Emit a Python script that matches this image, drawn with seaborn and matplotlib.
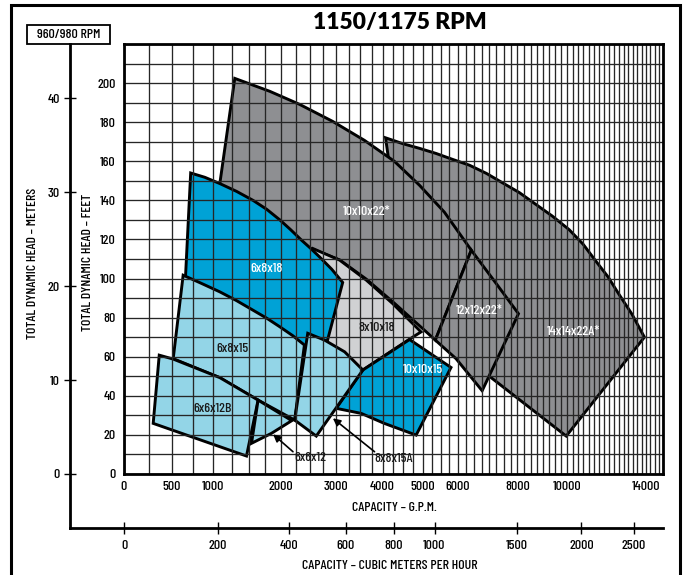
import numpy as np
import matplotlib

matplotlib.use("Agg")

import matplotlib.pyplot as plt
from matplotlib.patches import Rectangle
from matplotlib.ticker import FixedLocator
import seaborn as sns

# ------------------------------------------------------------------
# data: (capacity gpm, head ft) outline points
# ------------------------------------------------------------------
pump_14x14x22a = [(4070, 172), (4490, 169), (4920, 166.6), (5370, 164), (5840, 161),
                  (6360, 158), (6910, 153.8), (7460, 149), (8070, 144), (8700, 138),
                  (9370, 132), (10100, 125), (10730, 117.6), (11330, 109), (11930, 101),
                  (12500, 92), (13200, 81.8), (13900, 70),
                  (9970, 19.4), (7010, 50), (6300, 58), (4280, 140)]
pump_10x10x22 = [(1295, 202.4), (1817, 195.8), (2316, 189.1), (2930, 180.4),
                 (3590, 170.7), (4280, 160), (4920, 147.7), (5605, 134), (6420, 114.5),
                 (5350, 68.5), (4990, 74.6), (4280, 87.4), (3630, 99.7), (3070, 109.5),
                 (2550, 115), (1000, 124)]
pump_12x12x22 = [(6420, 114.5), (7240, 97.5), (8040, 82), (6770, 42.6), (5950, 59),
                 (5350, 68.5)]
pump_8x10x18 = [(2550, 115.4), (3070, 109.4), (3630, 99.2), (4240, 87.2), (4960, 72.7),
                (4660, 69), (3555, 53.2), (2770, 66), (2400, 109)]
pump_6x8x18 = [(720, 154), (895, 151.8), (1090, 148.6), (1320, 144.6), (1560, 140),
               (1770, 135.4), (1980, 130), (2160, 125), (2350, 119.6), (2510, 115.5),
               (2680, 111), (2910, 104.8), (3130, 98), (2830, 68.5), (2585, 66),
               (2316, 58), (650, 94)]
pump_10x10x15 = [(3555, 53.2), (4660, 68.8), (5800, 54.5), (4830, 19.9), (4040, 25.9),
                 (3520, 31), (3000, 33.6)]
pump_6x8x15 = [(630, 101.7), (832, 97.9), (1090, 93.2), (1320, 88.7), (1560, 83.8),
               (1770, 79.7), (1980, 75.3), (2195, 70.8), (2400, 66),
               (2230, 27.6), (1636, 37.8), (1090, 49.3), (515, 59)]
pump_8x8x15a = [(2460, 72), (2773, 68.5), (3170, 62.5), (3555, 53.2), (2616, 19.4),
                (2230, 27.6)]
pump_6x6x12b = [(360, 60.8), (515, 58.8), (1090, 49.3), (1636, 37.8), (1463, 9.2),
                (295, 25.9)]
pump_6x6x12 = [(1636, 37.8), (2180, 27.3), (1844, 20.8), (1537, 15.7)]

# label name, position (gpm, ft)
label_names = ["10x10x22*", "6x8x18", "8x10x18", "6x8x15", "10x10x15",
               "12x12x22*", "14x14x22A*", "6x6x12B"]
label_gpm = [3630, 1765, 3855, 1270, 5000, 6680, 10300, 1000]
label_ft = [134, 105, 74.5, 63.7, 53.2, 83.5, 72.7, 33]
label_dark = [False, False, True, True, False, False, False, True]

# callouts: name, text position, arrow tail, arrow head
callout_names = ["6x6x12", "8x8x15A"]
callout_text = [(2510, 8.3), (4258, 7.7)]
callout_tail = [(2200, 11.4), (3815, 11.4)]
callout_head = [(1870, 20.3), (2934, 28.5)]

gpm_ticks = [0, 500, 1000, 2000, 3000, 4000, 5000, 6000, 8000, 10000, 14000]
ft_ticks = list(range(0, 201, 20))
meter_ticks = [0, 10, 20, 30, 40]
m3h_ticks = [0, 200, 400, 600, 800, 1000, 1500, 2000, 2500]

GRAY = "#8e8f92"
BLUE = "#00a2d6"
LIGHT_BLUE = "#93d5e7"
LIGHT_GRAY = "#d0d1d3"

pumps = [
    (pump_14x14x22a, GRAY),
    (pump_10x10x22, GRAY),
    (pump_12x12x22, GRAY),
    (pump_8x10x18, LIGHT_GRAY),
    (pump_6x8x18, BLUE),
    (pump_10x10x15, BLUE),
    (pump_6x8x15, LIGHT_BLUE),
    (pump_8x8x15a, LIGHT_BLUE),
    (pump_6x6x12b, LIGHT_BLUE),
    (pump_6x6x12, LIGHT_BLUE),
]

# lower scales are the 960/980 rpm equivalents
SPEED_RATIO = 1.21
FT_PER_M = 3.28084 * SPEED_RATIO ** 2
GPM_PER_M3H = 4.40287 * SPEED_RATIO

X_OFFSET = 2800.0
X_MAX = 15000
Y_MAX = 220

COND = ["Barlow Condensed", "Roboto Condensed", "Oswald", "Liberation Sans Narrow",
        "DejaVu Sans"]
TITLE_FONT = ["Lato", "DejaVu Sans"]
FS = 10


def _fwd(x):
    return np.log10(np.maximum(np.asarray(x, dtype=float) + X_OFFSET, 1e-6))


def _inv(y):
    return 10 ** np.asarray(y, dtype=float) - X_OFFSET


# ------------------------------------------------------------------
# figure layout (pixels)
# ------------------------------------------------------------------
W, H = 685, 575
AX_L, AX_R, AX_T, AX_B = 124, 663, 44, 474
M_X, M_Y = 70, 528

sns.set_theme(style="white")
plt.rcParams["font.family"] = COND
plt.rcParams["font.weight"] = "medium"
plt.rcParams["axes.labelweight"] = "medium"
plt.rcParams["axes.unicode_minus"] = False
for key in ["text.color", "axes.labelcolor", "xtick.color", "ytick.color"]:
    plt.rcParams[key] = "black"

fig = plt.figure(figsize=(W / 100, H / 100), dpi=100)

# meters / m3h axes (only left + bottom spines)
ax_m = fig.add_axes([M_X / W, 1 - M_Y / H, (AX_R - M_X) / W, (M_Y - AX_T) / H])
ax_m.set_facecolor("none")
ax_m.set_xscale("function", functions=(_fwd, _inv))
span = float(_fwd(X_MAX) - _fwd(0))
x_left = float(_inv(_fwd(0) - (AX_L - M_X) / (AX_R - AX_L) * span))
ax_m.set_xlim(x_left, X_MAX)
ft_per_px = Y_MAX / (AX_B - AX_T)
ax_m.set_ylim(-(M_Y - AX_B) * ft_per_px / FT_PER_M, Y_MAX / FT_PER_M)
for side in ["top", "right"]:
    ax_m.spines[side].set_visible(False)
for side in ["left", "bottom"]:
    ax_m.spines[side].set_linewidth(2.0)
    ax_m.spines[side].set_color("black")
ax_m.set_yticks(meter_ticks)
ax_m.set_yticklabels([str(v) for v in meter_ticks])
ax_m.set_xticks([v * GPM_PER_M3H for v in m3h_ticks])
ax_m.set_xticklabels([str(v) for v in m3h_ticks])
ax_m.tick_params(axis="both", direction="inout", length=9, width=1.0, color="black",
                 labelsize=FS)
ax_m.tick_params(axis="x", pad=4)
ax_m.tick_params(axis="y", pad=3)
ax_m.xaxis.set_ticks_position("bottom")
ax_m.yaxis.set_ticks_position("left")
ax_m.set_xlabel("CAPACITY – CUBIC METERS PER HOUR", fontsize=FS)
ax_m.xaxis.set_label_coords((390 - M_X) / (AX_R - M_X), -(560 - M_Y) / (M_Y - AX_T))
ax_m.set_ylabel("TOTAL DYNAMIC HEAD – METERS", fontsize=FS)
ax_m.yaxis.set_label_coords((39 - M_X) / (AX_R - M_X), (M_Y - 263) / (M_Y - AX_T))

# main chart
ax = fig.add_axes([AX_L / W, 1 - AX_B / H, (AX_R - AX_L) / W, (AX_B - AX_T) / H])
ax.set_facecolor("white")
ax.set_xscale("function", functions=(_fwd, _inv))
ax.set_xlim(0, X_MAX)
ax.set_ylim(0, Y_MAX)

for i, (outline, colour) in enumerate(pumps):
    xs = [p[0] for p in outline]
    ys = [p[1] for p in outline]
    ax.fill(xs, ys, facecolor=colour, edgecolor="black", linewidth=2.1,
            joinstyle="miter", zorder=1 + i * 0.05)

ax.set_axisbelow(False)
ax.set_xticks(gpm_ticks)
ax.set_xticklabels([str(v) for v in gpm_ticks])
ax.set_yticks(ft_ticks)
ax.set_yticklabels([str(v) for v in ft_ticks])
ax.xaxis.set_minor_locator(FixedLocator(np.arange(0, X_MAX + 1, 250)))
ax.yaxis.set_minor_locator(FixedLocator(np.arange(0, Y_MAX + 1, 10)))
ax.grid(which="both", color="#262626", linewidth=0.95)
ax.tick_params(which="both", length=0, labelsize=FS)
ax.tick_params(axis="x", pad=5)
ax.tick_params(axis="y", pad=6)
for side in ["left", "right", "top", "bottom"]:
    ax.spines[side].set_visible(True)
    ax.spines[side].set_color("black")
    ax.spines[side].set_linewidth(2.0)
    ax.spines[side].set_zorder(4)

ax.set_xlabel("CAPACITY – G.P.M.", fontsize=FS)
ax.xaxis.set_label_coords((394 - AX_L) / (AX_R - AX_L), -(502 - AX_B) / (AX_B - AX_T))
ax.set_ylabel("TOTAL DYNAMIC HEAD – FEET", fontsize=FS)
ax.yaxis.set_label_coords((94 - AX_L) / (AX_R - AX_L), (AX_B - 262) / (AX_B - AX_T))

for name, gx, fy, dark in zip(label_names, label_gpm, label_ft, label_dark):
    ax.text(gx, fy, name, ha="center", va="center", fontsize=FS,
            color="#1a1a1a" if dark else "white", zorder=5)

for name, txt, tail, head in zip(callout_names, callout_text, callout_tail, callout_head):
    ax.annotate("", xy=head, xytext=tail,
                arrowprops=dict(arrowstyle="-|>", color="black", lw=1.2,
                                mutation_scale=11, shrinkA=0, shrinkB=0),
                zorder=5)
    ax.text(txt[0], txt[1], name, ha="center", va="center", fontsize=FS,
            color="#1a1a1a", zorder=5)

# title, rpm box and outer frame
fig.text(400 / W, 1 - 22 / H, "1150/1175 RPM", ha="center", va="center",
         fontsize=16.5, fontweight="heavy", family=TITLE_FONT)
fig.add_artist(Rectangle((27 / W, 1 - 44 / H), 83 / W, 19 / H, transform=fig.transFigure,
                         fill=False, edgecolor="black", linewidth=1.3))
fig.text(68.5 / W, 1 - 34.5 / H, "960/980 RPM", ha="center", va="center", fontsize=FS)
fig.add_artist(Rectangle((11 / W, -0.1), (680 - 11) / W, 1.1 - 5 / H,
                         transform=fig.transFigure, fill=False, edgecolor="black",
                         linewidth=2.2))

fig.savefig("out.png", dpi=100)
plt.close(fig)
